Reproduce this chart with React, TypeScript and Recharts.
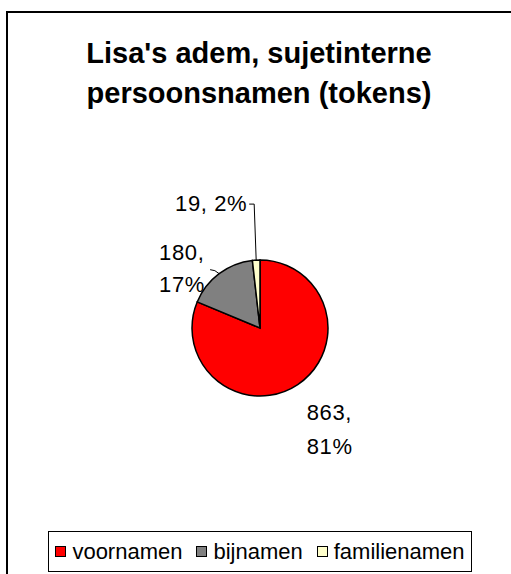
import { PieChart, Pie, Cell, Legend } from 'recharts';

const categories = ['voornamen', 'bijnamen', 'familienamen'];
const tokens = [863, 180, 19];
const colors = ['#FF0000', '#808080', '#FFFFCC'];
const titleLines = ["Lisa's adem, sujetinterne", 'persoonsnamen (tokens)'];

const data = categories.map((name, i) => ({ name, value: tokens[i] }));

const RADIAN = Math.PI / 180;
const FONT = '"Liberation Sans", Arial, sans-serif';

const renderLabel = (props: any) => {
  const { cx, cy, midAngle, outerRadius, value, percent, index } = props;
  const ex = cx + outerRadius * Math.cos(-midAngle * RADIAN);
  const ey = cy + outerRadius * Math.sin(-midAngle * RADIAN);
  const pct = `${Math.round(percent * 100)}%`;
  const txt = { fontSize: 22, fill: '#000', fontFamily: FONT, letterSpacing: 0.6 };

  if (index === 0) {
    return (
      <text x={ex + 9} y={ey + 35} {...txt}>
        <tspan x={ex + 9}>{value},</tspan>
        <tspan x={ex + 9} dy={34}>{pct}</tspan>
      </text>
    );
  }
  if (index === 1) {
    return (
      <g>
        <path d={`M${ex},${ey} Q${ex - 4},${ey - 4} ${ex - 9},${ey - 4}`} stroke="#000" fill="none" strokeWidth={1} />
        <text x={ex - 60} y={ey - 14} {...txt}>
          <tspan x={ex - 60}>{value},</tspan>
          <tspan x={ex - 60} dy={32}>{pct}</tspan>
        </text>
      </g>
    );
  }
  return (
    <g>
      <polyline
        points={`${ex},${ey} ${ex - 2},${ey - 56} ${ex - 7},${ey - 56}`}
        stroke="#000"
        fill="none"
        strokeWidth={1}
      />
      <text x={ex - 9} y={ey - 49} textAnchor="end" {...txt}>
        {value}, {pct}
      </text>
    </g>
  );
};

const renderLegend = () => (
  <div style={{
    boxSizing: 'border-box',
    width: 424,
    height: 41,
    border: '1px solid #000',
    background: '#fff',
    display: 'flex',
    alignItems: 'center',
    justifyContent: 'center',
    gap: 14,
    fontFamily: FONT,
    fontSize: 22,
    color: '#000',
  }}>
    {categories.map((c, i) => (
      <div key={c} style={{ display: 'flex', alignItems: 'center', gap: 6 }}>
        <span style={{
          display: 'inline-block',
          width: 11,
          height: 11,
          boxSizing: 'border-box',
          border: '1px solid #000',
          background: colors[i],
        }} />
        <span>{c}</span>
      </div>
    ))}
  </div>
);

export default function App() {
  return (
    <div style={{ position: 'relative', width: 511, height: 574, overflow: 'hidden', background: '#fff' }}>
      <style>{'body{margin:0;overflow:hidden}'}</style>
      <div style={{
        position: 'absolute',
        left: 6,
        top: 11,
        width: 540,
        height: 600,
        border: '2px solid #000',
      }} />
      <div style={{ position: 'absolute', left: 0, top: 0 }}>
        <PieChart width={511} height={574} margin={{ top: 0, right: 0, bottom: 0, left: 0 }}>
          <text x={259} y={63} textAnchor="middle" fontFamily={FONT} fontSize={29} fontWeight="bold" fill="#000">
            {titleLines[0]}
          </text>
          <text x={259} y={103} textAnchor="middle" fontFamily={FONT} fontSize={29} fontWeight="bold" fill="#000">
            {titleLines[1]}
          </text>
          <Pie
            data={data}
            dataKey="value"
            nameKey="name"
            cx={260}
            cy={328}
            outerRadius={68}
            startAngle={90}
            endAngle={-270}
            stroke="#000"
            strokeWidth={1.5}
            label={renderLabel}
            labelLine={false}
            isAnimationActive={false}
          >
            {data.map((d, i) => (
              <Cell key={d.name} fill={colors[i]} />
            ))}
          </Pie>
          <Legend
            content={renderLegend}
            wrapperStyle={{ position: 'absolute', left: 48, top: 531, width: 424, height: 41 }}
          />
        </PieChart>
      </div>
    </div>
  );
}
